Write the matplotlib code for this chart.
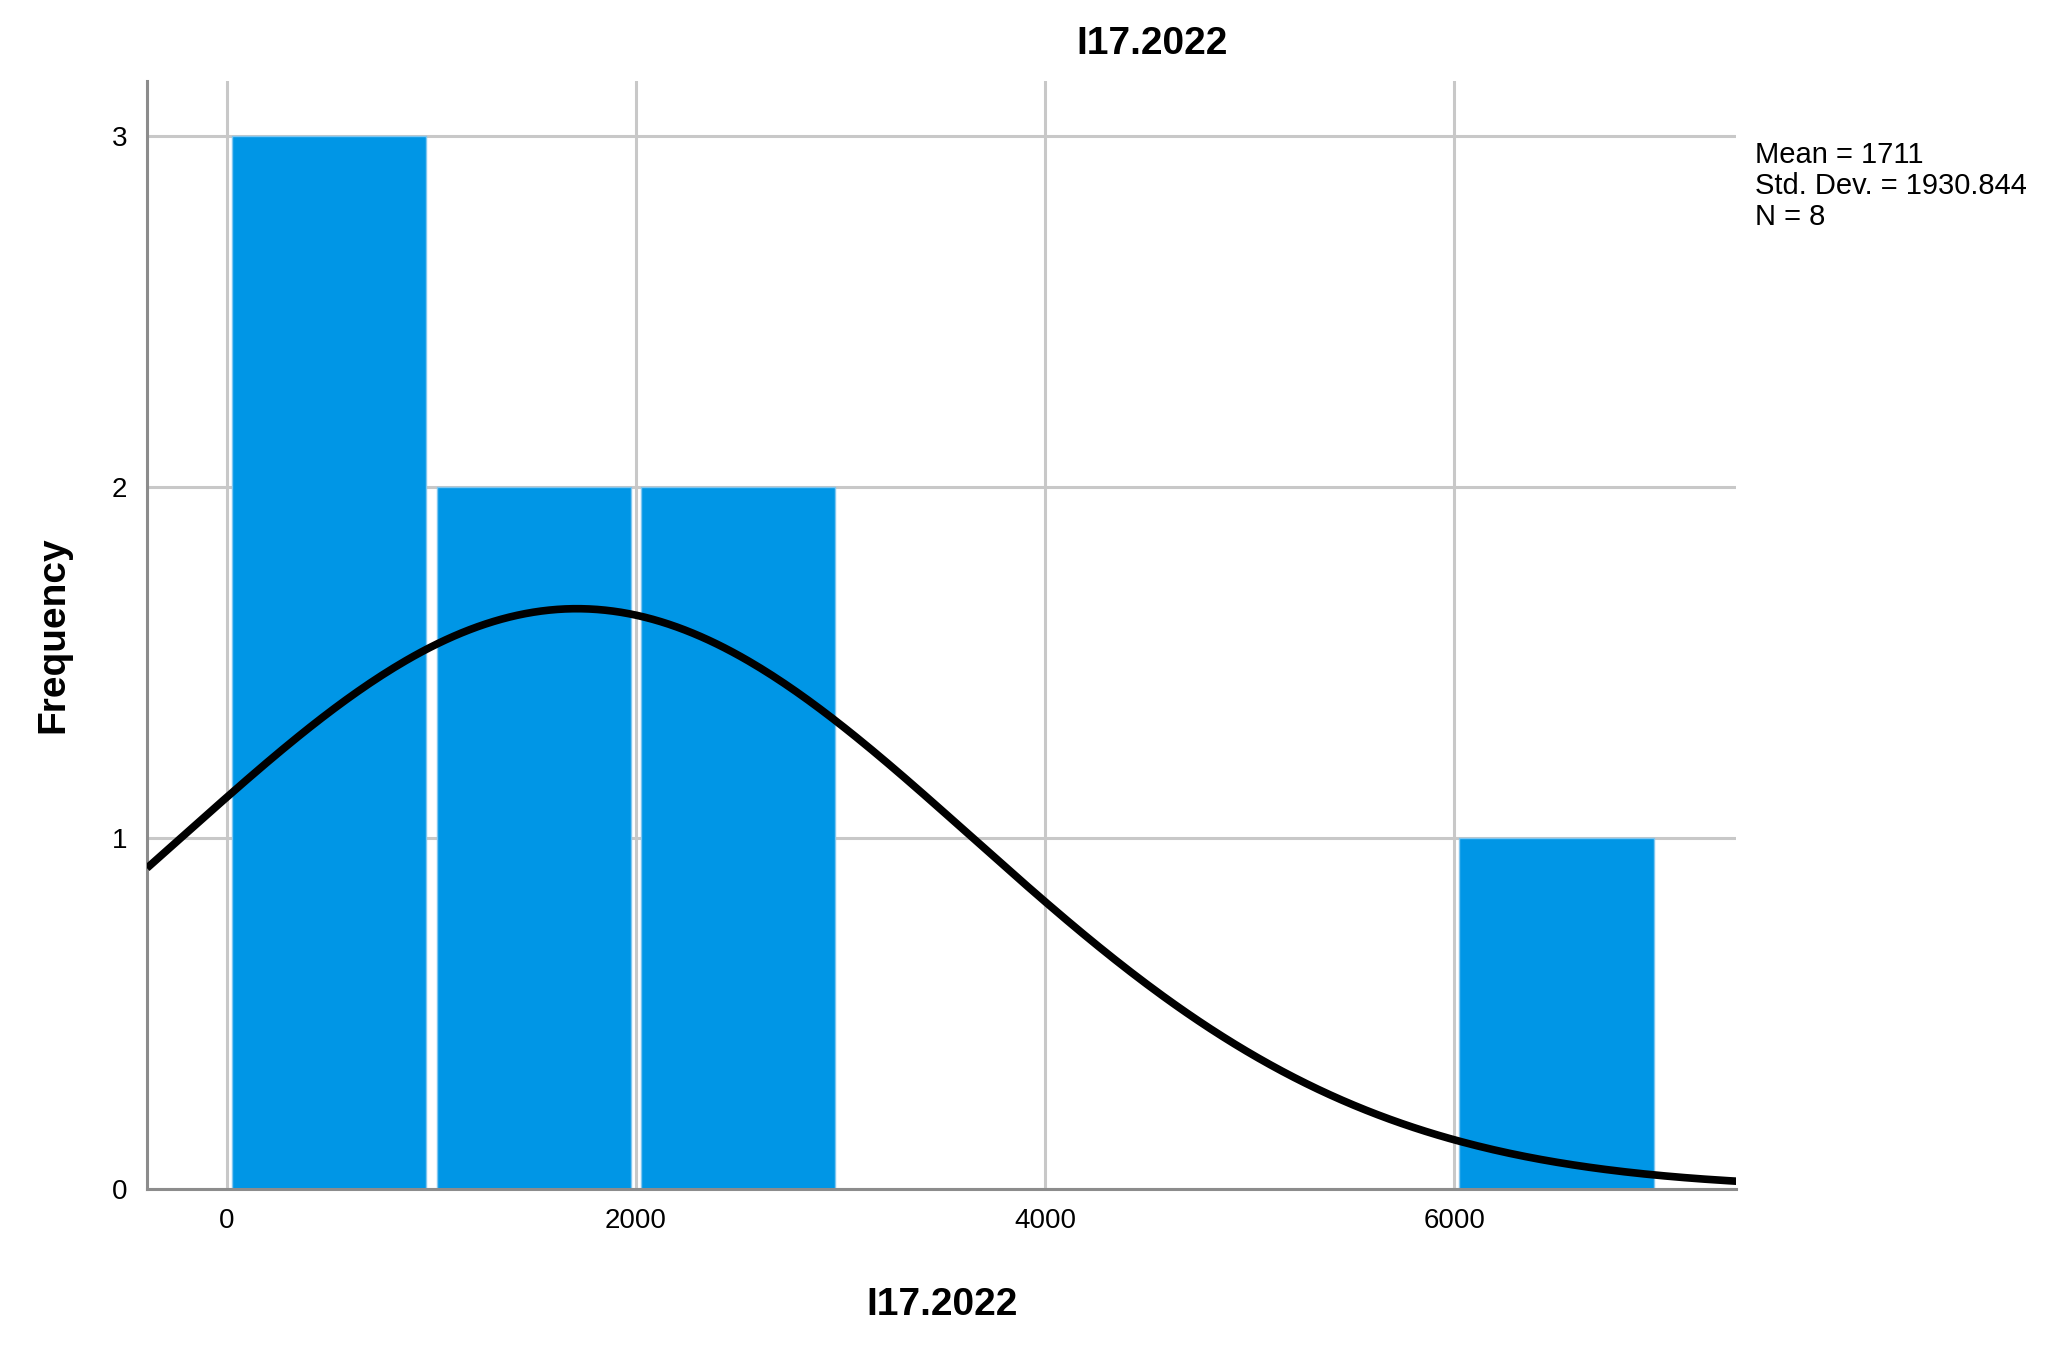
import numpy as np
import matplotlib.pyplot as plt

# Données de l'histogramme
bin_left = [0, 1000, 2000, 3000, 4000, 5000, 6000]
counts = [3, 2, 2, 0, 0, 0, 1]
bin_width = 1000

mean_val = 1711
std_val = 1930.844
n_val = 8

x_ticks = [0, 2000, 4000, 6000]
y_ticks = [0, 1, 2, 3]

plt.rcParams['font.family'] = ['Liberation Sans', 'DejaVu Sans']

fig = plt.figure(figsize=(20.58, 13.45), dpi=100)
ax = fig.add_axes([0.0714, 0.116, 0.7723, 0.8235])

# Barres
gap = 50
centers = [b + bin_width / 2 for b in bin_left]
ax.bar(centers, counts, width=bin_width - gap, color='#0096e6',
       edgecolor='#7fc6f0', linewidth=1.0, zorder=2)

# Courbe normale
xs = np.linspace(-391, 7380, 400)
pdf = np.exp(-0.5 * ((xs - mean_val) / std_val) ** 2) / (std_val * np.sqrt(2 * np.pi))
ax.plot(xs, n_val * bin_width * pdf, color='black', linewidth=5.5, zorder=3,
        solid_capstyle='butt')

ax.set_xlim(-391, 7380)
ax.set_ylim(0, 3.155)
ax.set_xticks(x_ticks)
ax.set_yticks(y_ticks)
ax.tick_params(length=0, labelsize=20)
ax.tick_params(axis='x', pad=14)
ax.tick_params(axis='y', pad=14)

ax.grid(True, color='#c8c8c8', linewidth=2.2, zorder=0)
ax.set_axisbelow(True)
for s in ['top', 'right']:
    ax.spines[s].set_visible(False)
for s in ['left', 'bottom']:
    ax.spines[s].set_color('#8c8c8c')
    ax.spines[s].set_linewidth(2.2)

ax.set_xlabel('I17.2022', fontsize=28, fontweight='bold', labelpad=38)
ax.set_ylabel('Frequency', fontsize=28, fontweight='bold', labelpad=29)
fig.text(0.56, 0.967, 'I17.2022', fontsize=28, fontweight='bold',
         ha='center', va='center')

stats = "Mean = %d\nStd. Dev. = %.3f\nN = %d" % (mean_val, std_val, n_val)
fig.text(0.853, 0.895, stats, fontsize=21, ha='left', va='top', linespacing=1.12)

fig.savefig('out.png', dpi=100)
